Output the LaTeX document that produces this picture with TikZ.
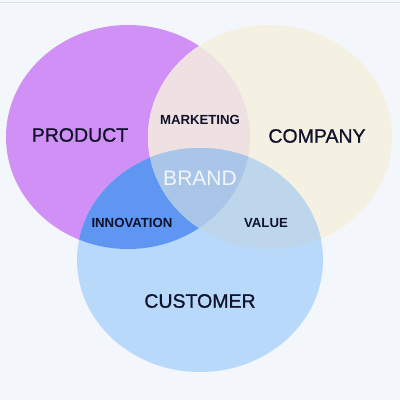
\documentclass[tikz,border=0pt]{standalone}
\usepackage{fontspec}
\setmainfont{Liberation Sans}
\newfontfamily\heavyfont[FakeBold=0.9]{Liberation Sans}
\definecolor{bgc}{HTML}{F3F6FB}
\definecolor{prodc}{HTML}{D090F5}
\definecolor{compc}{HTML}{F4F1E3}
\definecolor{custc}{HTML}{B9D9FB}
\definecolor{mktc}{HTML}{EFE0E1}
\definecolor{innc}{HTML}{5E96F2}
\definecolor{valc}{HTML}{BDD6EC}
\definecolor{brandc}{HTML}{A9C6E8}
\definecolor{txtc}{HTML}{10112A}
\definecolor{linec}{HTML}{DCE2EA}
\begin{document}
\begin{tikzpicture}[x=1pt,y=-1pt,
  prodE/.style={insert path={(128,137) ellipse [x radius=122pt, y radius=112pt]}},
  compE/.style={insert path={(270,137) ellipse [x radius=122pt, y radius=112pt]}},
  custE/.style={insert path={(200,260) ellipse [x radius=123pt, y radius=112pt]}},
  biglabel/.style={text=txtc, font=\heavyfont\fontsize{19.5}{20}\selectfont, inner sep=0pt},
  smalllabel/.style={text=txtc, font=\bfseries\fontsize{13.2}{14}\selectfont, inner sep=0pt},
  brandlabel/.style={text=white!85!brandc, font=\fontsize{21}{22}\selectfont, inner sep=0pt}]
\fill[bgc] (0,0) rectangle (400,400);
\useasboundingbox (0,0) rectangle (400,400);
\draw[linec, line width=1pt] (0,2) -- (400,2);
% circles
\fill[prodc, prodE];
\fill[compc, compE];
\fill[custc, custE];
% pairwise overlaps
\begin{scope}
  \clip[prodE];
  \fill[mktc, compE];
\end{scope}
\begin{scope}
  \clip[prodE];
  \fill[innc, custE];
\end{scope}
\begin{scope}
  \clip[compE];
  \fill[valc, custE];
\end{scope}
% center
\begin{scope}
  \clip[prodE];
  \clip[compE];
  \fill[brandc, custE];
\end{scope}
% labels
\node[biglabel] (product) at (80,135) {PRODUCT};
\node[biglabel] (company) at (317,136) {COMPANY};
\node[biglabel] (customer) at (200,301) {CUSTOMER};
\node[smalllabel] (marketing) at (200,120) {MARKETING};
\node[smalllabel] (innovation) at (132,223) {INNOVATION};
\node[smalllabel] (value) at (266,223) {VALUE};
\node[brandlabel] (brand) at (200,178) {BRAND};
\end{tikzpicture}
\end{document}
